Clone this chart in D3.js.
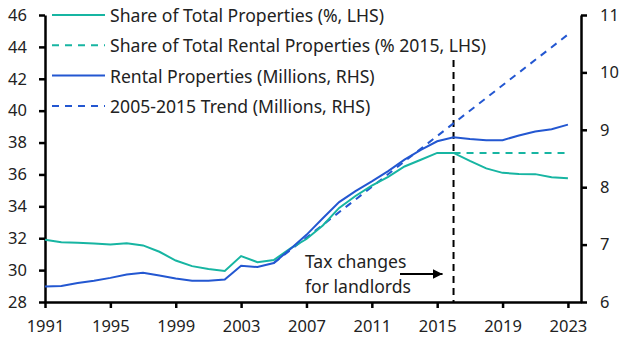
<!DOCTYPE html>
<html>
<head>
<meta charset="utf-8">
<script src="https://cdn.jsdelivr.net/npm/d3@7"></script>
<style>
  body { margin: 0; background: #fff; }
  svg text { font-family: "Noto Sans", "Open Sans", sans-serif; fill: #222; }
</style>
</head>
<body>
<div id="chart"></div>
<script>
// Years on the x axis
const years = [1991, 1992, 1993, 1994, 1995, 1996, 1997, 1998, 1999, 2000,
  2001, 2002, 2003, 2004, 2005, 2006, 2007, 2008, 2009, 2010, 2011, 2012,
  2013, 2014, 2015, 2016, 2017, 2018, 2019, 2020, 2021, 2022, 2023];

// Share of total properties (%, LHS)
const shareTotal = [31.9, 31.75, 31.72, 31.67, 31.6, 31.68, 31.55, 31.15, 30.6, 30.25,
  30.07, 29.95, 30.88, 30.5, 30.63, 31.35, 31.95, 32.8, 33.9, 34.65, 35.3, 35.85,
  36.5, 36.92, 37.35, 37.35, 36.85, 36.38, 36.1, 36.03, 36.02, 35.82, 35.76];

// Rental properties (millions, RHS)
const rental = [6.27, 6.28, 6.33, 6.37, 6.42, 6.48, 6.51, 6.46, 6.41, 6.37,
  6.37, 6.39, 6.63, 6.61, 6.68, 6.92, 7.17, 7.46, 7.74, 7.93, 8.1, 8.28,
  8.48, 8.65, 8.8, 8.87, 8.84, 8.82, 8.82, 8.9, 8.97, 9.01, 9.09];

// Share held at its 2015 level (%, LHS)
const shareHeldYears = [2016, 2023];
const shareHeld = [37.35, 37.35];

// 2005-2015 trend extended (millions, RHS)
const trendYears = [2005, 2023];
const trend = [6.68, 10.66];

const leftTicks = [28, 30, 32, 34, 36, 38, 40, 42, 44, 46];
const rightTicks = [6, 7, 8, 9, 10, 11];
const xTicks = [1991, 1995, 1999, 2003, 2007, 2011, 2015, 2019, 2023];
const policyYear = 2016;

const legendItems = [
  { label: "Share of Total Properties (%, LHS)", color: "#17b5a2", dash: null },
  { label: "Share of Total Rental Properties (% 2015, LHS)", color: "#17b5a2", dash: "7,6" },
  { label: "Rental Properties (Millions, RHS)", color: "#2357d1", dash: null },
  { label: "2005-2015 Trend (Millions, RHS)", color: "#2357d1", dash: "7,6" }
];

const W = 630, H = 347;
const margin = { top: 15, right: 49, bottom: 45, left: 45 };
const teal = "#17b5a2", blue = "#2357d1";

const svg = d3.select("#chart").append("svg")
  .attr("width", W).attr("height", H);

const x = d3.scaleLinear().domain([1991, 2023.8]).range([margin.left, W - margin.right]);
const yL = d3.scaleLinear().domain([28, 46]).range([H - margin.bottom, margin.top]);
const yR = d3.scaleLinear().domain([6, 11]).range([H - margin.bottom, margin.top]);

// axes
const axisStyle = g => {
  g.select(".domain").attr("stroke", "#000").attr("stroke-width", 2.5);
  g.selectAll(".tick line").attr("stroke", "#000").attr("stroke-width", 2.5);
  g.selectAll(".tick text").attr("font-size", 16.5).attr("fill", "#222");
};

svg.append("g")
  .attr("transform", `translate(${margin.left},0)`)
  .call(d3.axisLeft(yL).tickValues(leftTicks).tickSize(6).tickSizeOuter(0).tickPadding(12))
  .call(axisStyle);

svg.append("g")
  .attr("transform", `translate(${W - margin.right},0)`)
  .call(d3.axisRight(yR).tickValues(rightTicks).tickFormat(d3.format("d")).tickSize(6).tickSizeOuter(0).tickPadding(13))
  .call(axisStyle);

svg.append("g")
  .attr("transform", `translate(0,${H - margin.bottom})`)
  .call(d3.axisBottom(x).tickValues(xTicks).tickFormat(d3.format("d")).tickSize(6).tickSizeOuter(0).tickPadding(12))
  .call(axisStyle);

// policy marker
svg.append("line")
  .attr("x1", x(policyYear)).attr("x2", x(policyYear))
  .attr("y1", 60).attr("y2", yL(28))
  .attr("stroke", "#000").attr("stroke-width", 2)
  .attr("stroke-dasharray", "7,5");

const lineL = d3.line().x(d => x(d[0])).y(d => yL(d[1]));
const lineR = d3.line().x(d => x(d[0])).y(d => yR(d[1]));

svg.append("path")
  .datum(d3.zip(trendYears, trend))
  .attr("d", lineR)
  .attr("fill", "none").attr("stroke", blue).attr("stroke-width", 2)
  .attr("stroke-dasharray", "7,6");

svg.append("path")
  .datum(d3.zip(shareHeldYears, shareHeld))
  .attr("d", lineL)
  .attr("fill", "none").attr("stroke", teal).attr("stroke-width", 2)
  .attr("stroke-dasharray", "7,6");

svg.append("path")
  .datum(d3.zip(years, shareTotal))
  .attr("d", lineL)
  .attr("fill", "none").attr("stroke", teal).attr("stroke-width", 2);

svg.append("path")
  .datum(d3.zip(years, rental))
  .attr("d", lineR)
  .attr("fill", "none").attr("stroke", blue).attr("stroke-width", 2);

// legend
const legend = svg.append("g").attr("transform", "translate(52,15)");
legendItems.forEach((d, i) => {
  const row = legend.append("g").attr("transform", `translate(0,${i * 30.3})`);
  row.append("line")
    .attr("x1", 0).attr("x2", 53)
    .attr("stroke", d.color).attr("stroke-width", 2)
    .attr("stroke-dasharray", d.dash);
  row.append("text")
    .attr("x", 58).attr("y", 7)
    .attr("font-size", 17.6)
    .text(d.label);
});

// annotation
const note = svg.append("text").attr("font-size", 17.6);
note.append("tspan").attr("x", 305).attr("y", 268).text("Tax changes");
note.append("tspan").attr("x", 305).attr("y", 293).text("for landlords");

svg.append("defs").append("marker")
  .attr("id", "arrow")
  .attr("viewBox", "0 0 10 10")
  .attr("refX", 10).attr("refY", 5)
  .attr("markerWidth", 5).attr("markerHeight", 5)
  .attr("markerUnits", "strokeWidth")
  .attr("orient", "auto")
  .append("path").attr("d", "M0,0L10,5L0,10Z").attr("fill", "#000");

svg.append("line")
  .attr("x1", 400).attr("x2", x(policyYear) - 11)
  .attr("y1", 274).attr("y2", 274)
  .attr("stroke", "#000").attr("stroke-width", 2)
  .attr("marker-end", "url(#arrow)");
</script>
</body>
</html>
